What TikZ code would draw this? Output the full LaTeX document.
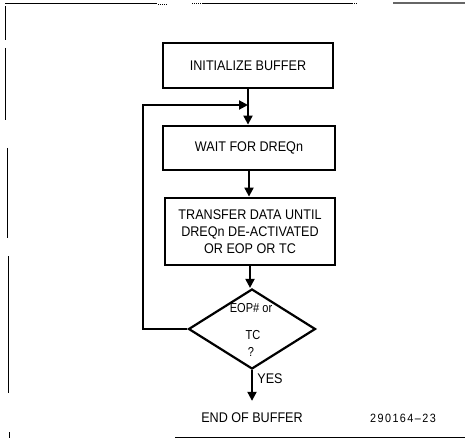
\documentclass[tikz,border=0pt]{standalone}
\usepackage{fontspec}
\setmainfont{Liberation Sans}[FakeStretch=0.9]
\usetikzlibrary{arrows.meta,shapes.geometric}
\begin{document}
\begin{tikzpicture}[x=1pt,y=-1pt,
  box/.style={draw,line width=2.8pt,rectangle,inner sep=0pt,align=center,
    font=\fontsize{14}{17}\selectfont},
  dec/.style={draw,line width=2.2pt,diamond,inner sep=0pt,minimum width=127pt,minimum height=80pt},
  lbl/.style={inner sep=0pt,font=\fontsize{14}{17}\selectfont},
  dlbl/.style={inner sep=0pt,font=\fontsize{13}{15}\selectfont\addfontfeature{FakeStretch=0.85}},
  conn/.style={line width=2pt},
  arr/.style={conn,-{Triangle[length=9pt,width=9pt]}},
  frame/.style={line width=1pt}]
\useasboundingbox (0,0) rectangle (465,438);
% scanned frame remnants
\draw[frame] (5,4) -- (157,4);
\draw[frame,densely dotted] (158,4.5) -- (168,4.5);
\draw[frame,densely dotted] (192,4) -- (201,4);
\draw[frame] (202,4) -- (353,4);
\draw[frame,densely dotted] (354,4) -- (358,4);
\draw[line width=1.4pt,black!60] (393,3) -- (465,3);
\draw[frame] (5,6) -- (5,40);
\draw[frame] (5,48) -- (5,120);
\draw[frame] (7,148) -- (7,238);
\draw[frame] (8,256) -- (8,393);
\draw[frame] (9,432) -- (9,438);
\draw[frame] (175,437) -- (465,437);
% boxes
\node[box,minimum width=170pt,minimum height=45pt] (b1) at (248,65.5) {INITIALIZE BUFFER};
\node[box,minimum width=172pt,minimum height=44pt] (b2) at (249,148) {WAIT FOR DREQn};
\node[box,minimum width=170pt,minimum height=67pt] (b3) at (250,231.5) {TRANSFER DATA UNTIL\\DREQn DE-ACTIVATED\\OR EOP OR TC};
\node[dec] (d) at (252,329) {};
\node[dlbl] (t1) at (251,308) {EOP\# or};
\node[dlbl] (t2) at (253,335) {TC};
\node[dlbl] (t3) at (251,352) {?};
\node[lbl] (yes) at (270,379) {YES};
\node[lbl] (eob) at (252,418) {END OF BUFFER};
\node[inner sep=0pt,font=\fontsize{12}{14}\selectfont\addfontfeature{LetterSpace=12}] (fig) at (403,418) {290164--23};
% connectors
\coordinate (j) at (b1.south |- 0,105);
\coordinate (lc) at (143,105);
\draw[arr] (b1.south) -- (b1.south |- b2.north);
\draw[arr] (d.west) -| (lc) -- (j);
\draw[arr] (b2.south) -- (b2.south |- b3.north);
\draw[arr] (b3.south) -- (b3.south |- d.north);
\draw[arr,shorten >=12pt] (d.south) -- (d.south |- eob.north);
\end{tikzpicture}
\end{document}
